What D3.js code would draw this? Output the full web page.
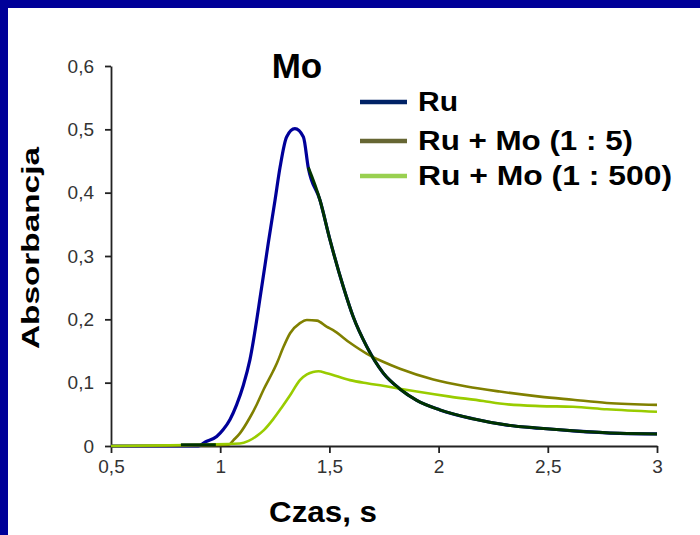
<!DOCTYPE html>
<html><head><meta charset="utf-8">
<script src="https://cdn.jsdelivr.net/npm/d3@7"></script>
<style>
html,body{margin:0;padding:0;background:#fff;}
svg{display:block;font-family:"Liberation Sans",Arial,sans-serif;}
</style></head>
<body>
<svg id="chart" width="700" height="535"></svg>
<script>
// ---- data ----
const seriesNames = ["Ru", "Ru + Mo (1 : 5)", "Ru + Mo (1 : 500)"];
const ruT = [0.5, 0.9, 0.93, 0.984, 1.014, 1.045, 1.075, 1.106, 1.136, 1.19, 1.22, 1.251, 1.274, 1.304, 1.342, 1.381, 1.403, 1.457, 1.503, 1.564, 1.609, 1.671, 1.747, 1.823, 1.9, 2.006, 2.157, 2.313, 2.464, 2.615, 2.83, 3.0];
const ruV = [0, 0, 0.006, 0.015, 0.026, 0.042, 0.065, 0.096, 0.136, 0.251, 0.32, 0.388, 0.44, 0.488, 0.501, 0.488, 0.44, 0.388, 0.325, 0.251, 0.204, 0.157, 0.115, 0.09, 0.072, 0.057, 0.043, 0.033, 0.028, 0.024, 0.02, 0.019];
const mo5T = [0.5, 1.04, 1.06, 1.09, 1.136, 1.168, 1.2, 1.242, 1.26, 1.288, 1.32, 1.365, 1.397, 1.443, 1.489, 1.517, 1.594, 1.67, 1.746, 1.823, 1.976, 2.128, 2.28, 2.464, 2.615, 2.77, 3.0];
const mo5V = [0, 0.002, 0.009, 0.02, 0.045, 0.066, 0.09, 0.118, 0.131, 0.155, 0.178, 0.194, 0.199, 0.198, 0.188, 0.183, 0.163, 0.146, 0.133, 0.122, 0.105, 0.094, 0.086, 0.078, 0.073, 0.068, 0.065];
const mo500T = [0.5, 1.09, 1.13, 1.168, 1.2, 1.242, 1.28, 1.32, 1.365, 1.397, 1.425, 1.45, 1.488, 1.594, 1.672, 1.746, 1.9, 2.052, 2.205, 2.28, 2.464, 2.615, 2.77, 3.0];
const mo500V = [0, 0.004, 0.008, 0.016, 0.025, 0.042, 0.06, 0.08, 0.104, 0.113, 0.117, 0.118, 0.115, 0.104, 0.099, 0.095, 0.086, 0.078, 0.071, 0.067, 0.063, 0.062, 0.058, 0.054];
// unlabelled dark-green trace overlapping Ru (gap = NaN)
const hidT = [0.82, 0.98, 1.2, 1.403, 1.457, 1.503, 1.564, 1.609, 1.671, 1.747, 1.823, 1.9, 2.006, 2.157, 2.313, 2.464, 2.615, 2.83, 3.0];
const hidV = [0.002, 0.002, NaN, 0.44, 0.388, 0.325, 0.251, 0.204, 0.157, 0.115, 0.09, 0.072, 0.057, 0.043, 0.033, 0.028, 0.024, 0.02, 0.019];
const xTicks = [0.5, 1, 1.5, 2, 2.5, 3];
const yTicks = [0, 0.1, 0.2, 0.3, 0.4, 0.5, 0.6];

const lineColors = ["#000099", "#808000", "#99cc00"];
const legendColors = ["#002266", "#666633", "#99d050"];
const hidColor = "#003300";

const svg = d3.select("#chart");
// frame
svg.append("rect").attr("x",0).attr("y",0).attr("width",700).attr("height",8).attr("fill","#000099");
svg.append("rect").attr("x",0).attr("y",0).attr("width",8).attr("height",535).attr("fill","#000099");

const x = d3.scaleLinear().domain([0.5, 3]).range([111, 657]);
const y = d3.scaleLinear().domain([0, 0.6]).range([446, 66]);

const fmt = d => String(d).replace(".", ",");

// axes
const gx = svg.append("g").attr("transform","translate(0,446)")
  .call(d3.axisBottom(x).tickValues(xTicks).tickFormat(fmt).tickSize(7).tickSizeOuter(0).tickPadding(7));
const gy = svg.append("g").attr("transform","translate(111,0)")
  .call(d3.axisLeft(y).tickValues(yTicks).tickFormat(fmt).tickSize(6).tickSizeOuter(0).tickPadding(11));
[gx, gy].forEach(g => {
  g.select(".domain").attr("stroke","#222").attr("stroke-width",1.8);
  g.selectAll(".tick line").attr("stroke","#222").attr("stroke-width",1.8);
  g.selectAll(".tick text").attr("fill","#333").style("font-size","19px").style("font-family","'Liberation Sans',Arial,sans-serif");
});

function draw(ts, vs, color, w) {
  const pts = ts.map((t,i) => [t, vs[i]]);
  svg.append("path").datum(pts)
    .attr("fill","none").attr("stroke",color).attr("stroke-width",w)
    .attr("stroke-linejoin","round")
    .attr("d", d3.line().defined(d => !isNaN(d[1])).x(d => x(d[0])).y(d => y(d[1])).curve(d3.curveMonotoneX));
}
draw(ruT, ruV, lineColors[0], 3.2);
draw(mo5T, mo5V, lineColors[1], 2.6);
draw(mo500T, mo500V, lineColors[2], 2.6);
draw(hidT, hidV, hidColor, 3.0);

// title
svg.append("text").attr("x",297).attr("y",78).attr("text-anchor","middle")
  .style("font-size","35px").style("font-weight","bold").attr("fill","#000").text("Mo");

// legend
const legY = [102, 141, 176];
const legW = [40, 215, 254];
seriesNames.forEach((n,i) => {
  svg.append("line").attr("x1",360).attr("x2",407).attr("y1",legY[i]).attr("y2",legY[i])
    .attr("stroke",legendColors[i]).attr("stroke-width",4.5);
  svg.append("text").attr("x",418).attr("y",legY[i]+9)
    .style("font-size","27px").style("font-weight","bold").attr("fill","#000")
    .attr("textLength",legW[i]).attr("lengthAdjust","spacingAndGlyphs").text(n);
});

// axis titles
svg.append("text").attr("x",323).attr("y",522).attr("text-anchor","middle")
  .style("font-size","29px").style("font-weight","bold").attr("fill","#000")
  .attr("textLength",108).attr("lengthAdjust","spacingAndGlyphs").text("Czas, s");
svg.append("text").attr("transform","translate(39,248) rotate(-90)").attr("text-anchor","middle")
  .style("font-size","23px").style("font-weight","bold").attr("fill","#000")
  .attr("textLength",202).attr("lengthAdjust","spacingAndGlyphs").text("Absorbancja");
</script>
</body></html>
